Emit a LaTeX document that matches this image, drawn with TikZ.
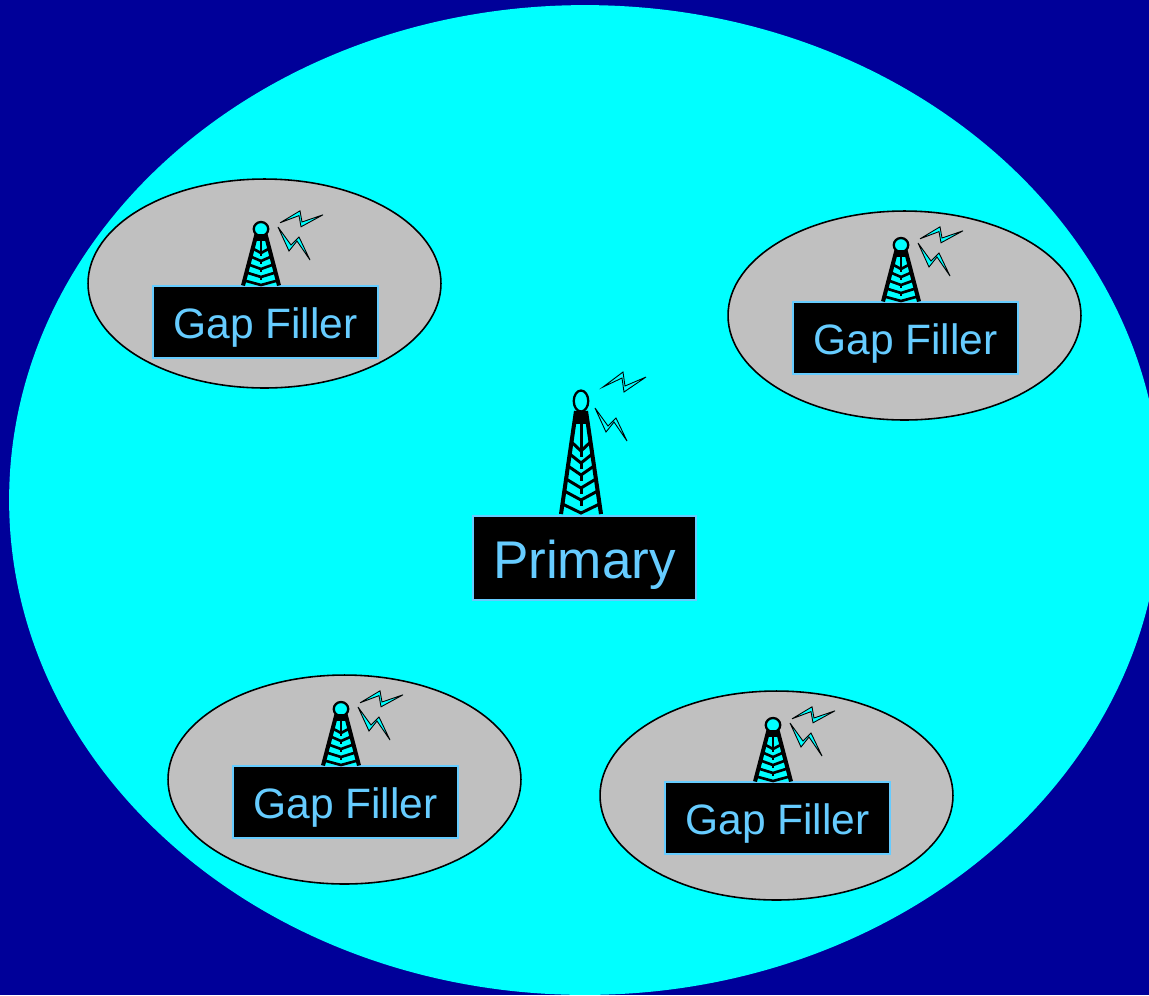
\documentclass[tikz,border=0pt]{standalone}
\usepackage{fontspec}
\setmainfont{Liberation Sans}
\usetikzlibrary{shapes.geometric, positioning}
\definecolor{navybg}{HTML}{000099}
\definecolor{zonecyan}{HTML}{00FFFF}
\definecolor{labelblue}{HTML}{66CCFF}
\definecolor{zonegray}{HTML}{C0C0C0}

\tikzset{
  bigzone/.style={ellipse,fill=zonecyan,inner sep=0pt,minimum width=23.04cm,minimum height=19.8cm},
  gapzone/.style={ellipse,draw=black,line width=0.9pt,fill=zonegray,inner sep=0pt,minimum width=7.06cm,minimum height=4.18cm},
  namebox/.style={draw=labelblue,line width=0.8pt,fill=black,text=labelblue,inner sep=0pt},
  gaplabel/.style={namebox,minimum width=4.5cm,minimum height=1.44cm,text height=0.84cm,text depth=0.2cm,font=\fontsize{24.2}{28}\selectfont},
  mainlabel/.style={namebox,minimum width=4.46cm,minimum height=1.68cm,text height=1.1cm,text depth=0.3cm,font=\fontsize{30.2}{36}\selectfont},
  towertop/.style={ellipse,draw=black,fill=zonecyan,inner sep=0pt},
  pics/tower/.style={code={
    \fill[zonecyan] (-5,10)--(-21,113)--(21,113)--(5,10)--cycle;
    \draw[line width=2.3pt] (-5,10)--(-20,113) (5,10)--(20,113);
    \fill[black] (-6,10) rectangle (6,23);
    \draw (0,20)--(0,48);
    \foreach \ribY in {#1} {
      \draw (-3.5-0.146*\ribY,\ribY)--(0,\ribY+9)--(3.5+0.146*\ribY,\ribY);
      \ifnum\ribY<100 \draw (0,\ribY+9)--(0,\ribY+15); \fi
    }
  }},
  pics/boltupper/.style={code={
    \draw[line width=0.5pt,fill=#1] (22,-14)--(42,-29)--(44,-15)--(65,-24)--(43,-9)--(41,-23)--cycle;
  }},
  pics/boltlower/.style={code={
    \draw[line width=0.5pt,fill=#1] (14,7)--(25,31)--(33,21)--(46,40)--(35,17)--(27,25)--cycle;
  }}
}

\begin{document}
\begin{tikzpicture}[x=0.02cm,y=-0.02cm]
  \useasboundingbox (0,0) rectangle (1149,995);
  \clip (0,0) rectangle (1149,995);
  \fill[navybg] (0,0) rectangle (1149,995);
  \node[bigzone] (coverage) at (585,500) {};

  % gap fillers
  \foreach \gapname/\gapx/\gapy/\lift in {gapa/264.5/283.5/0,gapb/904.5/315.5/16,gapc/344.5/779.5/16,gapd/776.5/795.5/16} {
    \node[gapzone] (\gapname) at (\gapx,\gapy) {};
    \node[gaplabel] (\gapname label) at ([shift={(1,38.5-\lift)}]\gapname.center) {Gap Filler};
    \node[towertop,minimum width=0.29cm,minimum height=0.28cm,line width=1.3pt] (\gapname top) at ([shift={(-3.5,-54.5-\lift)}]\gapname.center) {};
    \pic[line width=1.5pt,xscale=0.9,yscale=0.5] at (\gapname top) {tower={39,55,71,87,103}};
    \pic[yscale=0.8] at ([shift={(-3,5)}]\gapname top) {boltupper=zonecyan};
    \pic at ([shift={(3,-9)}]\gapname top) {boltlower=zonecyan};
  }

  % primary
  \node[mainlabel] (primarylabel) at (584.5,558) {Primary};
  \node[towertop,minimum width=0.29cm,minimum height=0.42cm,line width=1.3pt,fill=zonecyan] (primarytop) at (581,401) {};
  \pic[line width=1.7pt] at (primarytop) {tower={41,53,65,78,90,103}};
  \pic at (primarytop) {boltupper=zonecyan};
  \pic at (primarytop) {boltlower=zonecyan};
\end{tikzpicture}
\end{document}
